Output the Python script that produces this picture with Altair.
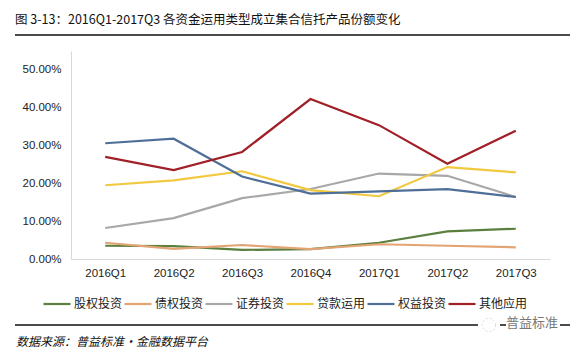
import altair as alt
import pandas as pd

quarters = ["2016Q1", "2016Q2", "2016Q3", "2016Q4", "2017Q1", "2017Q2", "2017Q3"]
series_names = ["股权投资", "债权投资", "证券投资", "贷款运用", "权益投资", "其他应用"]
colors = ["#5b7f3e", "#e3a474", "#a8a8a8", "#f2c93e", "#4f6f98", "#a11f27"]

equity_inv = [0.035, 0.034, 0.024, 0.026, 0.043, 0.073, 0.080]
debt_inv = [0.043, 0.027, 0.037, 0.026, 0.039, 0.035, 0.031]
securities = [0.082, 0.108, 0.161, 0.185, 0.226, 0.220, 0.164]
loans = [0.195, 0.208, 0.232, 0.182, 0.166, 0.243, 0.229]
rights_inv = [0.306, 0.318, 0.218, 0.173, 0.179, 0.185, 0.164]
other = [0.270, 0.235, 0.283, 0.423, 0.354, 0.252, 0.339]

values = [equity_inv, debt_inv, securities, loans, rights_inv, other]
rows = []
for name, vals in zip(series_names, values):
    for q, v in zip(quarters, vals):
        rows.append({"quarter": q, "series": name, "value": v})
df = pd.DataFrame(rows)

title_text = "图 3-13：2016Q1-2017Q3 各资金运用类型成立集合信托产品份额变化"
source_text = "数据来源：普益标准·金融数据平台"
watermark_text = "普益标准"

W, H = 479, 208
OX, OY = 71, 51
CJK = "Noto Sans CJK SC"

lines = alt.Chart(df).mark_line(strokeWidth=2.2).encode(
    x=alt.X("quarter:N", sort=quarters, title=None,
            scale=alt.Scale(type="point", padding=0.5),
            axis=alt.Axis(labelAngle=0, ticks=False, domainColor="#d9d9d9",
                          labelFont="Liberation Sans", labelFontSize=11.5,
                          labelColor="#222222", labelPadding=8)),
    y=alt.Y("value:Q", title=None,
            scale=alt.Scale(domain=[0, 0.55], nice=False),
            axis=alt.Axis(format=".2%", values=[0, 0.1, 0.2, 0.3, 0.4, 0.5],
                          grid=False, ticks=False, domainColor="#d9d9d9",
                          labelFont="Liberation Sans", labelFontSize=11.5,
                          labelColor="#222222", labelPadding=10)),
    color=alt.Color("series:N", sort=series_names, title=None,
                    scale=alt.Scale(domain=series_names, range=colors),
                    legend=alt.Legend(orient="none", legendX=-29, legendY=238,
                                      direction="horizontal", columns=6,
                                      symbolType="stroke", symbolSize=729,
                                      symbolStrokeWidth=2.2, labelFont=CJK,
                                      labelFontSize=12, labelColor="#222222",
                                      labelOffset=2, columnPadding=-6)),
    order=alt.value(0),
)

title = alt.Chart(pd.DataFrame({"t": [title_text]})).mark_text(
    align="left", baseline="middle", font=CJK, fontSize=12.5, color="#111111"
).encode(x=alt.value(15 - OX), y=alt.value(20 - OY), text="t:N")

top_rule = alt.Chart(pd.DataFrame({"a": [0]})).mark_rule(
    color="#111111", strokeWidth=1.5
).encode(x=alt.value(15 - OX), x2=alt.value(570 - OX), y=alt.value(35 - OY))

bottom_rule = alt.Chart(pd.DataFrame({"a": [0]})).mark_rule(
    color="#111111", strokeWidth=1.5
).encode(x=alt.value(15 - OX), x2=alt.value(478 - OX), y=alt.value(325 - OY))

bottom_rule2 = alt.Chart(pd.DataFrame({"a": [0]})).mark_rule(
    color="#111111", strokeWidth=1.5
).encode(x=alt.value(500 - OX), x2=alt.value(506 - OX), y=alt.value(325 - OY))

bottom_rule3 = alt.Chart(pd.DataFrame({"a": [0]})).mark_rule(
    color="#111111", strokeWidth=1.5
).encode(x=alt.value(560 - OX), x2=alt.value(570 - OX), y=alt.value(325 - OY))

icon = alt.Chart(pd.DataFrame({"a": [0]})).mark_point(
    shape="circle", size=180, color="#cccccc", strokeWidth=1, strokeDash=[2, 2]
).encode(x=alt.value(489 - OX), y=alt.value(325 - OY))

source = alt.Chart(pd.DataFrame({"t": [source_text]})).mark_text(
    align="left", baseline="middle", font=CJK, fontSize=12, fontStyle="italic",
    color="#111111"
).encode(x=alt.value(16 - OX), y=alt.value(342 - OY), text="t:N")

watermark = alt.Chart(pd.DataFrame({"t": [watermark_text]})).mark_text(
    align="left", baseline="middle", font=CJK, fontSize=13, color="#777777"
).encode(x=alt.value(506 - OX), y=alt.value(323 - OY), text="t:N")

chart = alt.layer(
    lines, title, top_rule, bottom_rule, bottom_rule2, bottom_rule3, icon,
    source, watermark
).properties(
    width=W, height=H,
    autosize=alt.AutoSizeParams(type="none"),
    padding={"left": OX, "top": OY, "right": 579 - OX - W, "bottom": 353 - OY - H},
    background="white",
).configure_view(stroke=None)

chart.save("out.html", embed_options={"renderer": "svg", "actions": False})
